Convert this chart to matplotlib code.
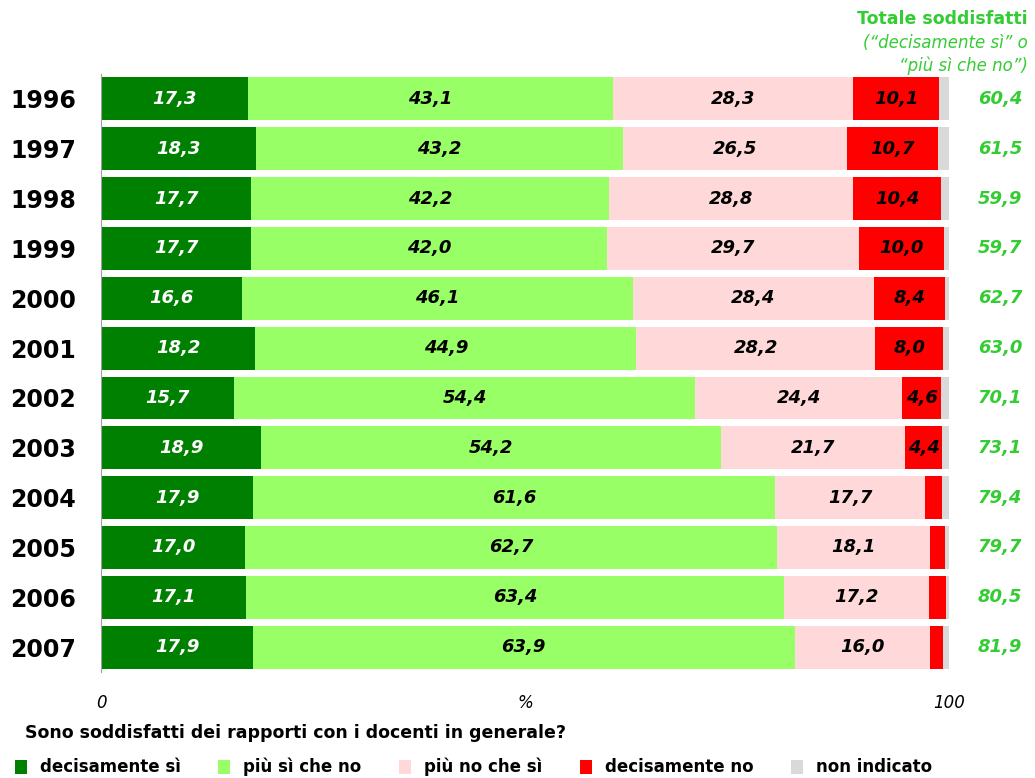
import matplotlib.pyplot as plt
from matplotlib.patches import Patch

# Data
anni = ["1996", "1997", "1998", "1999", "2000", "2001",
        "2002", "2003", "2004", "2005", "2006", "2007"]
decisamente_si = [17.3, 18.3, 17.7, 17.7, 16.6, 18.2, 15.7, 18.9, 17.9, 17.0, 17.1, 17.9]
piu_si_che_no = [43.1, 43.2, 42.2, 42.0, 46.1, 44.9, 54.4, 54.2, 61.6, 62.7, 63.4, 63.9]
piu_no_che_si = [28.3, 26.5, 28.8, 29.7, 28.4, 28.2, 24.4, 21.7, 17.7, 18.1, 17.2, 16.0]
decisamente_no = [10.1, 10.7, 10.4, 10.0, 8.4, 8.0, 4.6, 4.4, 2.0, 1.7, 1.9, 1.5]
non_indicato = [1.2, 1.3, 0.9, 0.6, 0.5, 0.7, 0.9, 0.8, 0.8, 0.5, 0.4, 0.7]
totale = [60.4, 61.5, 59.9, 59.7, 62.7, 63.0, 70.1, 73.1, 79.4, 79.7, 80.5, 81.9]

serie = [
    ("decisamente sì", decisamente_si, "#008000", "white"),
    ("più sì che no", piu_si_che_no, "#99FF66", "black"),
    ("più no che sì", piu_no_che_si, "#FFD9D9", "black"),
    ("decisamente no", decisamente_no, "#FF0000", "black"),
    ("non indicato", non_indicato, "#D9D9D9", "black"),
]
verde_tot = "#33CC33"

fig = plt.figure(figsize=(10.35, 7.78), dpi=100)
ax = fig.add_axes([0.0976, 0.1362, 0.8193, 0.7687])

y = list(range(len(anni)))
left = [0.0] * len(anni)
for nome, valori, colore, col_testo in serie:
    ax.barh(y, valori, left=left, height=0.86, color=colore, label=nome)
    if nome != "non indicato":
        for i, v in enumerate(valori):
            if v >= 3:
                ax.text(left[i] + v / 2, y[i], f"{v:.1f}".replace(".", ","),
                        ha="center", va="center", fontsize=13, fontweight="bold",
                        fontstyle="italic", color=col_testo)
    left = [l + v for l, v in zip(left, valori)]

# totale soddisfatti on the right
for i, t in enumerate(totale):
    ax.text(106.0, y[i], f"{t:.1f}".replace(".", ","), ha="center", va="center",
            fontsize=13, fontweight="bold", fontstyle="italic", color=verde_tot,
            clip_on=False)

ax.set_xlim(0, 100)
ax.set_ylim(11.5, -0.5)
ax.set_yticks(y)
ax.set_yticklabels(anni, fontsize=17, fontweight="bold")
ax.tick_params(axis="y", length=0, pad=18)
ax.set_xticks([0, 50, 100])
ax.set_xticklabels(["0", "%", "100"], fontsize=12, fontstyle="italic")
ax.tick_params(axis="x", length=0, pad=16)
for s in ["top", "right", "bottom"]:
    ax.spines[s].set_visible(False)
ax.spines["left"].set_color("#A0A0A0")

fig.text(0.993, 0.975, "Totale soddisfatti", ha="right", va="center",
         fontsize=12.5, fontweight="bold", color=verde_tot)
fig.text(0.993, 0.945, "(\u201cdecisamente sì\u201d o", ha="right", va="center",
         fontsize=12, fontstyle="italic", color=verde_tot)
fig.text(0.993, 0.915, "\u201cpiù sì che no\u201d)", ha="right", va="center",
         fontsize=12, fontstyle="italic", color=verde_tot)

fig.text(0.024, 0.058, "Sono soddisfatti dei rapporti con i docenti in generale?",
         ha="left", va="center", fontsize=12.5, fontweight="bold")

handles = [Patch(facecolor=c, edgecolor="none") for _, _, c, _ in serie]
labels = [n for n, _, _, _ in serie]
fig.legend(handles, labels, loc="center left", bbox_to_anchor=(0.0, 0.014),
           ncol=5, frameon=False, handlelength=0.7, handleheight=0.9,
           handletextpad=0.8, columnspacing=2.25,
           prop={"size": 12, "weight": "bold"})

fig.savefig("out.png", dpi=100)
